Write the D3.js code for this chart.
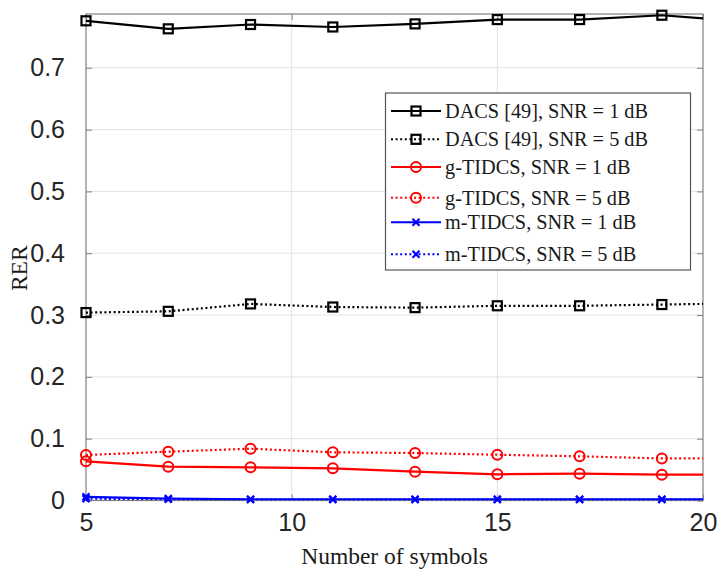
<!DOCTYPE html>
<html>
<head>
<meta charset="utf-8">
<script src="https://cdn.jsdelivr.net/npm/d3@7"></script>
<style>
	body {margin: 0; background: #fff;}
	.tick-label {font-family: "Liberation Sans", Arial, sans-serif; font-size: 25px; fill: #262626;}
	.serif {font-family: "Liberation Serif", "Times New Roman", serif; fill: #1a1a1a;}
</style>
</head>
<body>
<div id="container"></div>
<script>
// data (x = 21 lies past the axis limit, only its line piece shows)
var symbols = [5, 7, 9, 11, 13, 15, 17, 19, 21];
var dacs1 = [0.776, 0.763, 0.770, 0.766, 0.771, 0.778, 0.778, 0.785, 0.775];
var dacs5 = [0.304, 0.306, 0.318, 0.313, 0.312, 0.315, 0.315, 0.317, 0.319];
var gTidcs1 = [0.0634, 0.0547, 0.0537, 0.052, 0.0466, 0.0424, 0.0434, 0.0418, 0.0418];
var gTidcs5 = [0.0736, 0.079, 0.0838, 0.078, 0.0768, 0.074, 0.0715, 0.068, 0.068];
var mTidcs1 = [0.006, 0.003, 0.002, 0.002, 0.002, 0.002, 0.002, 0.002, 0.002];
var mTidcs5 = [0.003, 0.002, 0.0015, 0.0015, 0.0015, 0.0015, 0.0015, 0.0015, 0.0015];
var seriesNames = ["DACS [49], SNR = 1 dB", "DACS [49], SNR = 5 dB", "g-TIDCS, SNR = 1 dB",
	"g-TIDCS, SNR = 5 dB", "m-TIDCS, SNR = 1 dB", "m-TIDCS, SNR = 5 dB"];
var xTicks = [5, 10, 15, 20];
var yTicks = [0, 0.1, 0.2, 0.3, 0.4, 0.5, 0.6, 0.7];
var xLimits = [5, 20];
var yLimits = [0, 0.787];

// plot box in pixels
var margin = {top: 14, left: 86},
	width = 617,
	height = 486.5;

// style per series
var series = [
	{name: seriesNames[0], values: dacs1, color: "#000", dash: null, marker: "square"},
	{name: seriesNames[1], values: dacs5, color: "#000", dash: "2,2.6", marker: "square"},
	{name: seriesNames[2], values: gTidcs1, color: "#ff0000", dash: null, marker: "circle"},
	{name: seriesNames[3], values: gTidcs5, color: "#ff0000", dash: "2,2.6", marker: "circle"},
	{name: seriesNames[4], values: mTidcs1, color: "#0000ff", dash: null, marker: "cross"},
	{name: seriesNames[5], values: mTidcs5, color: "#0000ff", dash: "2,2.6", marker: "cross"}
];

var svg = d3.select("#container").append("svg")
	.attr("width", 718)
	.attr("height", 571);

var g = svg.append("g")
	.attr("transform", "translate(" + margin.left + "," + margin.top + ")");

var x = d3.scaleLinear().domain(xLimits).range([0, width]);
var y = d3.scaleLinear().domain(yLimits).range([height, 0]);

svg.append("defs").append("clipPath").attr("id", "plotClip")
	.append("rect").attr("width", width).attr("height", height);

// grid
g.selectAll(".xgrid").data(xTicks.slice(1, -1)).enter()
	.append("line")
	.attr("x1", function(d) { return x(d); }).attr("x2", function(d) { return x(d); })
	.attr("y1", 0).attr("y2", height)
	.style("stroke", "#e3e3e3").style("stroke-width", 1);
g.selectAll(".ygrid").data(yTicks.slice(1)).enter()
	.append("line")
	.attr("y1", function(d) { return y(d); }).attr("y2", function(d) { return y(d); })
	.attr("x1", 0).attr("x2", width)
	.style("stroke", "#e3e3e3").style("stroke-width", 1);

// axes (ticks pointing inward, box on all four sides)
var axisColor = "#808080";
function styleAxis(sel) {
	sel.select(".domain").remove();
	sel.selectAll(".tick line").style("stroke", axisColor);
	sel.selectAll(".tick text").attr("class", "tick-label").style("fill", "#262626");
}
g.append("g")
	.attr("transform", "translate(0," + height + ")")
	.call(d3.axisBottom(x).tickValues(xTicks).tickSize(-6).tickPadding(13).tickFormat(d3.format("d")))
	.call(styleAxis);
g.append("g")
	.call(d3.axisTop(x).tickValues(xTicks).tickSize(-6).tickFormat(""))
	.call(styleAxis);
g.append("g")
	.call(d3.axisLeft(y).tickValues(yTicks).tickSize(-6).tickPadding(21)
		.tickFormat(function(d) { return d === 0 ? "0" : d3.format(".1f")(d); }))
	.call(styleAxis);
g.append("g")
	.attr("transform", "translate(" + width + ",0)")
	.call(d3.axisRight(y).tickValues(yTicks).tickSize(-6).tickFormat(""))
	.call(styleAxis);
g.append("rect")
	.attr("width", width).attr("height", height)
	.style("fill", "none").style("stroke", axisColor).style("stroke-width", 1.2);

// lines
var line = d3.line()
	.x(function(d, i) { return x(symbols[i]); })
	.y(function(d) { return y(d); });

g.append("g").attr("clip-path", "url(#plotClip)")
	.selectAll(".series").data(series).enter()
	.append("path")
	.attr("d", function(d) { return line(d.values); })
	.style("fill", "none")
	.style("stroke", function(d) { return d.color; })
	.style("stroke-width", 2.2)
	.style("stroke-dasharray", function(d) { return d.dash; });

// markers
function drawMarker(sel, type, color) {
	if (type === "square") {
		sel.append("rect").attr("x", -4.5).attr("y", -4.5).attr("width", 9).attr("height", 9)
			.style("fill", "none").style("stroke", color).style("stroke-width", 2.2);
	} else if (type === "circle") {
		sel.append("circle").attr("r", 5)
			.style("fill", "none").style("stroke", color).style("stroke-width", 2);
	} else {
		sel.append("path").attr("d", "M-3.5,-3.5L3.5,3.5M-3.5,3.5L3.5,-3.5")
			.style("fill", "none").style("stroke", color).style("stroke-width", 2.2);
	}
}

series.forEach(function(s) {
	var pts = s.values.map(function(v, i) { return {x: symbols[i], y: v}; })
		.filter(function(p) { return p.x <= xLimits[1]; });
	g.selectAll(null).data(pts).enter()
		.append("g")
		.attr("transform", function(p) { return "translate(" + x(p.x) + "," + y(p.y) + ")"; })
		.each(function() { drawMarker(d3.select(this), s.marker, s.color); });
});

// axis labels
svg.append("text").attr("class", "serif")
	.attr("x", margin.left + width / 2).attr("y", 564)
	.style("text-anchor", "middle").style("font-size", "23.5px")
	.text("Number of symbols");
svg.append("text").attr("class", "serif")
	.attr("transform", "translate(27," + (margin.top + height / 2 + 11) + ") rotate(-90)")
	.style("text-anchor", "middle").style("font-size", "23.5px")
	.text("RER");

// legend (row positions follow the figure's uneven spacing)
var legendRowY = [111, 139.3, 167, 197.7, 222.3, 254.3];
var legend = svg.append("g");
legend.append("rect")
	.attr("x", 385.5).attr("y", 93).attr("width", 305).attr("height", 177)
	.style("fill", "#fff").style("stroke", "#555").style("stroke-width", 1.2);

var rows = legend.selectAll(".legend").data(series).enter()
	.append("g")
	.attr("class", "legend")
	.attr("transform", function(d, i) { return "translate(0," + legendRowY[i] + ")"; });

rows.append("line")
	.attr("x1", 391).attr("x2", 441)
	.style("stroke", function(d) { return d.color; })
	.style("stroke-width", 2)
	.style("stroke-dasharray", function(d) { return d.dash; });
rows.append("g")
	.attr("transform", "translate(416,0)")
	.each(function(d) { drawMarker(d3.select(this), d.marker, d.color); });
rows.append("text").attr("class", "serif")
	.attr("x", 445).attr("dy", "0.35em")
	.style("font-size", "20.3px")
	.text(function(d) { return d.name; });
</script>
</body>
</html>
